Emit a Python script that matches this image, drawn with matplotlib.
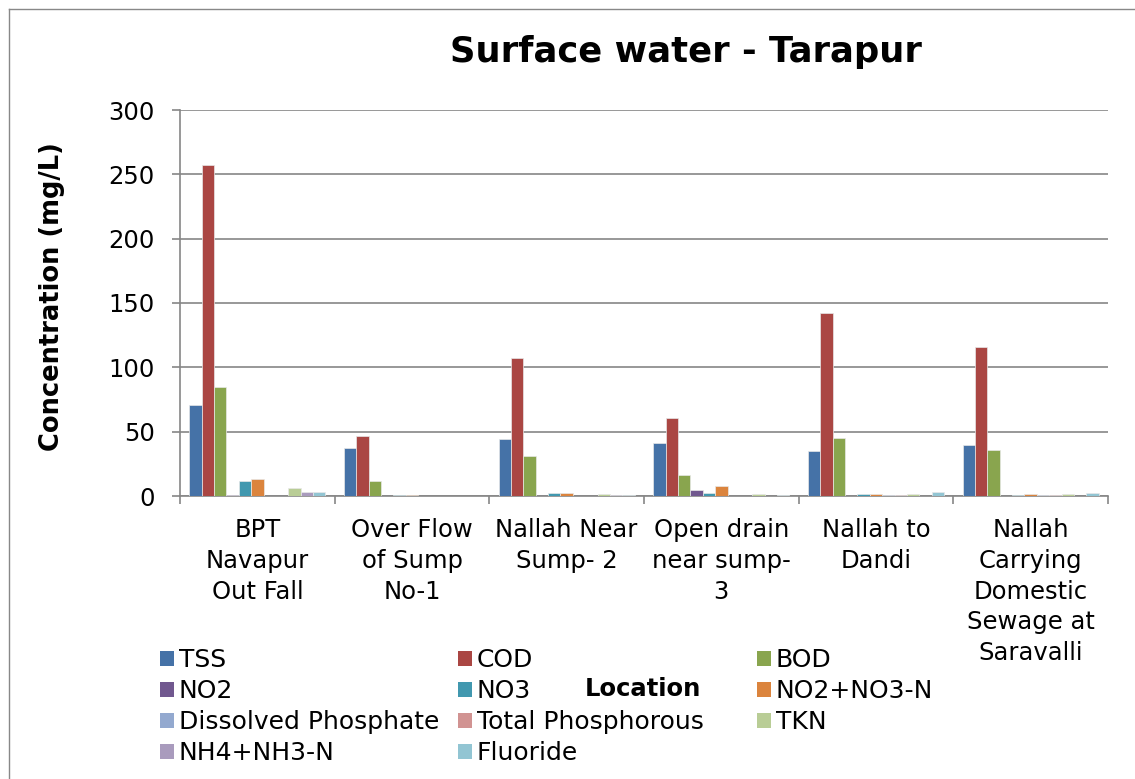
import matplotlib
matplotlib.use('Agg')
import matplotlib.pyplot as plt
import numpy as np
from matplotlib.lines import Line2D
from matplotlib.patches import Patch

plt.rcParams['font.family'] = ['DejaVu Sans']

# --- data ---
locations = ['BPT\nNavapur\nOut Fall', 'Over Flow\nof Sump\nNo-1', 'Nallah Near\nSump- 2',
             'Open drain\nnear sump-\n3', 'Nallah to\nDandi',
             'Nallah\nCarrying\nDomestic\nSewage at\nSaravalli']
params = ['TSS', 'COD', 'BOD', 'NO2', 'NO3', 'NO2+NO3-N', 'Dissolved Phosphate',
          'Total Phosphorous', 'TKN', 'NH4+NH3-N', 'Fluoride']
colors = ['#4572A7', '#AA4643', '#89A54E', '#71588F', '#4198AF', '#DB843D',
          '#93A9CF', '#D19392', '#B9CD96', '#A99BBD', '#92C5D3']

tss = [71, 37, 44, 41, 35, 40]
cod = [257, 47, 107, 61, 142, 116]
bod = [85, 12, 31, 16, 45, 36]
no2 = [1, 0, 0, 5, 0, 0]
no3 = [12, 1, 2.5, 2.5, 1.5, 1]
no2_no3_n = [13, 1, 2.5, 8, 1.5, 1.5]
diss_phos = [0, 0, 0, 0, 0.8, 0.8]
total_phos = [0, 0, 0, 0, 0.8, 0.8]
tkn = [6, 0.3, 1.8, 1.3, 1.3, 1.5]
nh4_nh3_n = [3, 0, 0.5, 0, 0, 0]
fluoride = [3, 0, 0.5, 0.5, 3, 2.6]
series = [tss, cod, bod, no2, no3, no2_no3_n, diss_phos, total_phos, tkn, nh4_nh3_n, fluoride]

fig = plt.figure(figsize=(11.35, 7.79), dpi=100)
ax = fig.add_axes([180 / 1135, 1 - 496 / 779, 928 / 1135, 386 / 779])

grid_c = '#868686'
bw = 0.08
x = np.arange(len(locations))
for k, (vals, name, col) in enumerate(zip(series, params, colors)):
    ax.bar(x + 0.06 + bw * (k + 0.5), vals, width=bw, color=col,
           edgecolor='#e8e8e8', linewidth=0.5, label=name, zorder=3)

ax.set_xlim(0, 6)
ax.set_ylim(0, 300)
ax.set_yticks(np.arange(0, 301, 50))
ax.yaxis.grid(True, color=grid_c, linewidth=1.2, zorder=0)
ax.set_xticks(x + 0.5)
ax.set_xticklabels(locations, fontsize=17.5, linespacing=1.35)
ax.set_xticks(np.arange(0, 7), minor=True)
ax.tick_params(axis='x', which='major', length=0, pad=16)
ax.tick_params(axis='x', which='minor', length=6, color=grid_c, width=1.2, direction='out')
ax.tick_params(axis='y', length=6, color=grid_c, width=1.2, labelsize=17.5, pad=12)
for s in ['top', 'right']:
    ax.spines[s].set_visible(False)
for s in ['left', 'bottom']:
    ax.spines[s].set_color(grid_c)
    ax.spines[s].set_linewidth(1.2)

ax.set_ylabel('Concentration (mg/L)', fontsize=18.5, fontweight='bold')
ax.yaxis.set_label_coords(-(180 - 65) / 928, 0.516)

fig.text(686 / 1135, 1 - 52 / 779, 'Surface water - Tarapur', fontsize=25.5,
         fontweight='bold', ha='center', va='center')
fig.text(643 / 1135, 1 - 689 / 779, 'Location', fontsize=17.5, fontweight='bold',
         ha='center', va='center')

# legend laid out row-wise in 3 fixed-width columns
for c, xpos in enumerate([160, 458, 757]):
    idx = list(range(c, len(params), 3))
    handles = [Patch(facecolor=colors[i], label=params[i]) for i in idx]
    fig.legend(handles=handles, loc='upper left',
               bbox_to_anchor=(xpos / 1135, 1 - 648 / 779), frameon=False,
               fontsize=18, handlelength=0.55, handleheight=0.55,
               handletextpad=0.2, labelspacing=0.28, borderaxespad=0, borderpad=0)

# chart border (clipped at right and bottom)
fig.add_artist(Line2D([8.5 / 1135, 8.5 / 1135], [0, 1 - 8.5 / 779],
                      transform=fig.transFigure, color='#888888', linewidth=1))
fig.add_artist(Line2D([8.5 / 1135, 1], [1 - 8.5 / 779, 1 - 8.5 / 779],
                      transform=fig.transFigure, color='#888888', linewidth=1))

fig.savefig('out.png', dpi=100)
